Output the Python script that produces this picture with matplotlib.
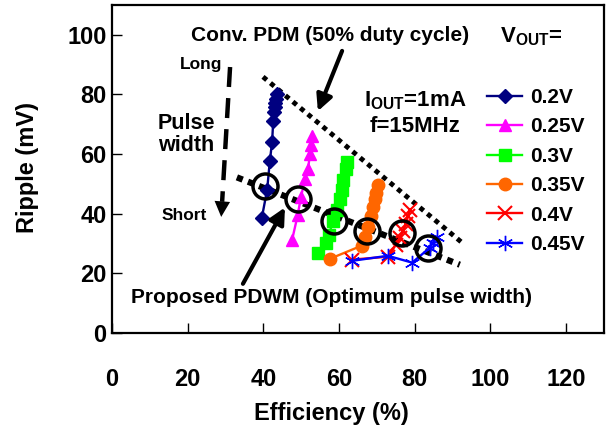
import matplotlib
matplotlib.use("Agg")
import matplotlib.pyplot as plt

plt.rcParams['font.family'] = ['Liberation Sans', 'DejaVu Sans']
plt.rcParams['font.weight'] = 'bold'
plt.rcParams['axes.labelweight'] = 'bold'
plt.rcParams['mathtext.fontset'] = 'custom'
plt.rcParams['mathtext.rm'] = 'Liberation Sans:bold'
plt.rcParams['mathtext.bf'] = 'Liberation Sans:bold'
plt.rcParams['mathtext.default'] = 'rm'

# efficiency (%) / ripple (mV) for each output voltage
eff_02 = [43.6, 43.4, 43.2, 43.0, 42.8, 42.6, 42.3, 41.7, 41.0, 39.6]
rip_02 = [80.0, 78.5, 77.0, 75.8, 74.0, 71.0, 64.0, 57.6, 48.1, 38.7]
eff_025 = [52.8, 52.6, 52.3, 51.8, 51.0, 49.9, 49.1, 47.6]
rip_025 = [66.0, 63.0, 60.0, 54.9, 51.5, 45.5, 39.7, 31.3]
eff_03 = [62.1, 61.8, 61.0, 60.8, 60.2, 59.4, 58.4, 57.3, 56.5, 54.4]
rip_03 = [57.2, 54.9, 51.2, 48.1, 45.1, 41.4, 37.4, 33.0, 30.3, 26.9]
eff_035 = [70.3, 69.7, 69.5, 69.0, 68.4, 67.6, 66.8, 66.0, 57.6]
rip_035 = [49.8, 47.1, 44.8, 42.1, 39.1, 35.7, 32.3, 29.3, 24.9]
eff_04 = [78.7, 78.2, 77.7, 76.9, 76.1, 75.0, 72.9, 63.4]
rip_04 = [41.4, 39.1, 36.7, 34.3, 32.0, 29.6, 25.6, 24.6]
eff_045 = [85.9, 84.8, 84.0, 79.3, 72.9, 63.4]
rip_045 = [32.3, 30.3, 28.6, 23.6, 25.9, 24.2]

# optimum pulse width operating points (circled)
opt_eff = [40.4, 49.1, 58.7, 67.4, 76.6, 83.5]
opt_rip = [49.2, 44.8, 37.4, 34.3, 33.7, 28.6]

# trend lines
conv_eff = [39.9, 92.5]
conv_rip = [85.9, 30.3]
prop_eff = [33.0, 91.9]
prop_rip = [52.2, 22.9]

series = [
    (eff_02, rip_02, '0.2V', '#000080', 'D', 7, 1.0),
    (eff_025, rip_025, '0.25V', '#FF00FF', '^', 9, 1.0),
    (eff_03, rip_03, '0.3V', '#00FF00', 's', 8, 1.0),
    (eff_035, rip_035, '0.35V', '#FF6600', 'o', 9, 1.0),
    (eff_04, rip_04, '0.4V', '#FF0000', 'x', 10, 1.5),
    (eff_045, rip_045, '0.45V', '#0000FF', (6, 2, 0), 11, 1.0),
]

fig = plt.figure(figsize=(6.08, 4.34), dpi=100)
ax = fig.add_axes([0.1842, 0.2327, 0.8092, 0.7558])

handles = []
for x, y, lab, col, mk, ms, mew in series:
    h, = ax.plot(x, y, color=col, marker=mk, ms=ms, mew=mew, lw=1.7,
                 mfc=col, mec=col, label=lab, zorder=3)
    handles.append(h)

ax.plot(conv_eff, conv_rip, color='black', lw=3.5, dashes=(1, 1), zorder=2)
ax.plot(prop_eff, prop_rip, color='black', lw=4.5, dashes=(1, 0.9), zorder=2)
ax.plot(opt_eff, opt_rip, ls='none', marker='o', ms=18, mfc='none',
        mec='black', mew=2.5, zorder=4)

# pulse width arrow (dashed shaft + solid head)
ax.plot([31.2, 29.1], [89.2, 44.0], color='black', lw=3.2, dashes=(4.5, 2.5))
ax.annotate('', xy=(28.8, 38.0), xytext=(29.2, 45.0),
            arrowprops=dict(arrowstyle='-|>', color='black', lw=0,
                            mutation_scale=28))

arrow_kw = dict(arrowstyle='-|>', color='black', lw=3, mutation_scale=24,
                shrinkA=0, shrinkB=0)
ax.annotate('', xy=(54.4, 74.4), xytext=(60.8, 94.6), arrowprops=arrow_kw)
ax.annotate('', xy=(45.7, 42.1), xytext=(34.6, 16.5), arrowprops=arrow_kw)

ax.text(57.6, 99.7, 'Conv. PDM (50% duty cycle)', fontsize=15,
        ha='center', va='center')
ax.text(58.1, 11.8, 'Proposed PDWM (Optimum pulse width)', fontsize=15,
        ha='center', va='center')
ax.text(23.5, 89.9, 'Long', fontsize=12.5, ha='center', va='center')
ax.text(19.0, 39.4, 'Short', fontsize=12.5, ha='center', va='center')
ax.text(19.6, 66.7, 'Pulse\nwidth', fontsize=15.5, ha='center',
        va='center', linespacing=1.05)
ax.text(80.0, 77.8, 'I$_{OUT}$=1mA', fontsize=16, ha='center', va='center')
ax.text(80.0, 69.4, 'f=15MHz', fontsize=16, ha='center', va='center')
ax.text(110.7, 99.3, 'V$_{OUT}$=', fontsize=16, ha='center', va='center')

ax.legend(handles=handles, loc='upper left',
          bbox_to_anchor=(487 / 608, 1 - 88 / 434),
          bbox_transform=fig.transFigure, frameon=False, fontsize=15,
          borderpad=0, borderaxespad=0, handlelength=1.7,
          handletextpad=0.35, labelspacing=0.5, numpoints=1)

ax.set_xlim(0, 130)
ax.set_ylim(0, 110)
ax.set_xticks(range(0, 121, 20))
ax.set_yticks(range(0, 101, 20))
ax.tick_params(axis='both', direction='in', length=7, width=1,
               labelsize=17)
ax.tick_params(axis='x', pad=25, top=False)
ax.tick_params(axis='y', pad=4, right=False)
for sp in ax.spines.values():
    sp.set_linewidth(1.6)

ax.set_xlabel('Efficiency (%)', fontsize=17, fontweight='bold')
ax.set_ylabel('Ripple (mV)', fontsize=17, fontweight='bold')
ax.xaxis.set_label_coords(0.446, -0.244)
ax.xaxis.label.set_va('center')
ax.yaxis.set_label_coords(-0.171, 0.505)
ax.yaxis.label.set_va('center')

fig.savefig('out.png', dpi=100)
